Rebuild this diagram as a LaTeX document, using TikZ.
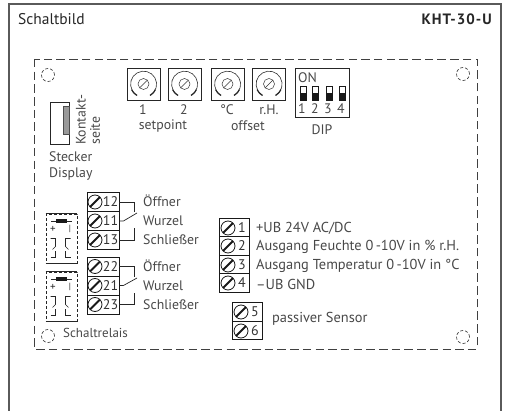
\documentclass[tikz,border=0pt]{standalone}
\usepackage{fontspec}
\setmainfont{PT Sans}
\newfontfamily\typfont[LetterSpace=7]{PT Sans Bold}
\definecolor{linie}{HTML}{5A5A5A}
\definecolor{schrift}{HTML}{484848}
\begin{document}
\begin{tikzpicture}[x=1pt,y=-1pt]
% Definition der Stile
\tikzset{
  beschrift/.style={text=schrift, font=\fontsize{13.8}{14}\selectfont, inner sep=0pt},
  langtext/.style={text=schrift, font=\fontsize{14.4}{15}\selectfont, inner sep=0pt},
  nummer/.style={text=black!80, font=\fontsize{14}{14}\selectfont, inner sep=0pt},
  titel/.style={text=black!85, font=\fontsize{15.5}{16}\selectfont, inner sep=0pt},
  rahmen/.style={draw=linie, line width=1.4pt},
  loch/.style={circle, draw=black!80, dashed, dash pattern=on 3pt off 2pt, minimum size=13pt, inner sep=0pt, line width=0.6pt},
  potibox/.style={rectangle, draw=black!85, minimum width=33pt, minimum height=32pt, inner sep=0pt, line width=0.8pt},
  schraube/.style={circle, draw=black!90, line width=0.8pt, minimum size=#1, inner sep=0pt,
    path picture={\draw[black!90, line width=2pt] (path picture bounding box.south west) -- (path picture bounding box.north east);}},
  schraube/.default=14pt,
  kerbe/.style={circle, draw=black!80, line width=0.5pt, minimum size=11pt, inner sep=0pt,
    path picture={\draw[black!80, line width=0.5pt] (path picture bounding box.south west) -- (path picture bounding box.north east);}},
  klemme/.style={rectangle, draw=black!90, minimum width=#1, minimum height=19pt, inner sep=0pt, line width=0.9pt},
  klemme/.default=30pt,
  schalter/.style={rectangle, draw=black!90, minimum width=6pt, minimum height=14pt, inner sep=0pt, line width=0.7pt,
    path picture={\fill[black!90] (path picture bounding box.south west) rectangle (path picture bounding box.east);}},
  draht/.style={draw=black!85, line width=0.7pt},
  poti/.pic={
    \node[potibox] (box) at (0,0) {};
    \node[kerbe] (kern) at (0,0) {};
    \node[circle, minimum size=26pt, inner sep=0pt] (ring) at (0,0) {};
    \draw[black!80, line width=0.6pt] (ring.-60) arc[start angle=-60, end angle=240, radius=13pt];
    \draw[black!85, line width=1.2pt] (ring.-60) arc[start angle=-60, end angle=-25, radius=13pt];
    \draw[black!85, line width=1.2pt] (ring.240) arc[start angle=240, end angle=205, radius=13pt];
  },
  relais/.pic={
    \node[draw=black!85, dashed, dash pattern=on 3pt off 2pt, line width=0.7pt, minimum width=31pt, minimum height=49pt, inner sep=0pt] (gehaeuse) at (0,0) {};
    \draw[black!85, line width=0.8pt] (gehaeuse.north west) -- (gehaeuse.north east);
    \draw[black!85, line width=0.8pt] (gehaeuse.south west) -- (gehaeuse.south east);
    \node[rectangle, fill=black!90, minimum width=11pt, minimum height=4pt, inner sep=0pt] (spule) at (0,-17.5) {};
    \draw[draht] (spule.west) -- ++(-5,0);
    \draw[draht] (spule.east) -- ++(5,0);
    \node[beschrift, font=\fontsize{11}{11}\selectfont, text=black!85] (plus) at (-8.5,-9.5) {+};
    \node[beschrift, font=\fontsize{9}{10}\selectfont, text=black!85] (minus) at (8.5,-9.5) {|};
    \draw[draht] (-11,0) -- (-6,0) -- (-6,8) -- (-9,11);
    \draw[draht] (9,0) -- (4,0) -- (4,8) -- (7,11);
    \draw[draht] (-11,19) -- (-6,19) -- (-6,13);
    \draw[draht] (9,19) -- (4,19) -- (4,13);
  }
}

\useasboundingbox (0,0) rectangle (506,411);

% Rahmen
\draw[rahmen] (9,411) -- (9,4) -- (501,4) -- (501,411);
\draw[draw=black!75, line width=0.9pt, dash pattern=on 8.5pt off 4.2pt] (34,59) rectangle (477,349);

% Titel
\node[titel, anchor=west] (schaltbild) at (18,19) {Schaltbild};
\node[titel, anchor=east, font=\fontsize{15}{16}\typfont] (typ) at (492,19) {KHT-30-U};

% Befestigungen
\node[loch] (loch_a) at (48,75) {};
\node[loch] (loch_b) at (463,74) {};
\node[loch] (loch_c) at (48,336) {};
\node[loch] (loch_d) at (463,337) {};

% Potentiometer
\pic (poti_a) at (143.5,84) {poti};
\pic (poti_b) at (184.5,84) {poti};
\pic (poti_c) at (227.5,84) {poti};
\pic (poti_d) at (269,84) {poti};
\node[beschrift] (txt_a) at (143,110) {1};
\node[beschrift] (txt_b) at (184,110) {2};
\node[beschrift] (txt_c) at (227,110) {°C};
\node[beschrift] (txt_d) at (269,110) {r.H.};
\node[beschrift] (setpoint) at (163,126) {setpoint};
\node[beschrift] (offset) at (248,126) {offset};

% DIP
\node[rectangle, draw=black!85, line width=0.8pt, minimum width=54pt, minimum height=49pt, inner sep=0pt] (dip) at (322,92.5) {};
\node[beschrift, anchor=west] (dip_on) at (298,78) {ON};
\node[schalter] (dip_a) at (303,93) {};
\node[schalter] (dip_b) at (315.5,93) {};
\node[schalter] (dip_c) at (329,93) {};
\node[schalter] (dip_d) at (342,93) {};
\node[beschrift] (dip_1) at (302,109) {1};
\node[beschrift] (dip_2) at (315,109) {2};
\node[beschrift] (dip_3) at (328,109) {3};
\node[beschrift] (dip_4) at (341,109) {4};
\node[beschrift] (dip_txt) at (322,130) {DIP};

% Stecker Display
\node[rectangle, draw=black!85, line width=0.8pt, minimum width=19pt, minimum height=42pt, inner sep=0pt] (stecker) at (59.5,123) {};
\node[rectangle, draw=black!70, minimum width=6pt, minimum height=28pt, inner sep=0pt, line width=0.4pt, fill=black!40] (kamm) at (66,120) {};
\node[beschrift, anchor=west, rotate=90] (kontakt) at (81,145) {Kontakt-};
\node[beschrift, anchor=west, rotate=90] (seite) at (95,145) {seite};
\node[beschrift, anchor=west] (stecker_a) at (49,157) {Stecker};
\node[beschrift, anchor=west] (stecker_b) at (49,174) {Display};

% Relais
\pic (relais_a) at (61.5,238.5) {relais};
\pic (relais_b) at (61.5,296.5) {relais};
\node[beschrift, anchor=west, font=\fontsize{13}{14}\selectfont] (schaltrelais) at (63,333) {Schaltrelais};

% Klemmen 12, 11, 13
\node[klemme=32pt] (k12) at (103,202) {};
\node[klemme=32pt] (k11) at (103,221) {};
\node[klemme=32pt] (k13) at (103,240) {};
\node[schraube] (s12) at (95,202) {};
\node[schraube] (s11) at (95,221) {};
\node[schraube] (s13) at (95,240) {};
\node[nummer] (n12) at (110.5,202) {12};
\node[nummer] (n11) at (110.5,221) {11};
\node[nummer] (n13) at (110.5,240) {13};
\coordinate (c12) at (134,212);
\coordinate (c11) at (137,213);
\coordinate (c13) at (134,228);
\draw[draht] (k12.east) -| (c12);
\draw[draht] (k11.east) -- ++(4,0) -- (c11);
\draw[draht] (k13.east) -| (c13);
\node[beschrift, anchor=west] (oeffner_a) at (143,201) {Öffner};
\node[beschrift, anchor=west] (wurzel_a) at (143,221) {Wurzel};
\node[beschrift, anchor=west] (schliesser_a) at (143,240) {Schließer};

% Klemmen 22, 21, 23
\node[klemme=32pt] (k22) at (103,266.5) {};
\node[klemme=32pt] (k21) at (103,285.5) {};
\node[klemme=32pt] (k23) at (103,304.5) {};
\node[schraube] (s22) at (95,266.5) {};
\node[schraube] (s21) at (95,285.5) {};
\node[schraube] (s23) at (95,304.5) {};
\node[nummer] (n22) at (110.5,266.5) {22};
\node[nummer] (n21) at (110.5,285.5) {21};
\node[nummer] (n23) at (110.5,304.5) {23};
\coordinate (c22) at (134,277);
\coordinate (c21) at (137,278);
\coordinate (c23) at (134,293);
\draw[draht] (k22.east) -| (c22);
\draw[draht] (k21.east) -- ++(4,0) -- (c21);
\draw[draht] (k23.east) -| (c23);
\node[beschrift, anchor=west] (oeffner_b) at (143,266) {Öffner};
\node[beschrift, anchor=west] (wurzel_b) at (143,286) {Wurzel};
\node[beschrift, anchor=west] (schliesser_b) at (143,305) {Schließer};

% Klemmen 1 bis 4
\node[klemme, minimum height=18.5pt] (k1) at (234.5,227.5) {};
\node[klemme, minimum height=18.5pt] (k2) at (234.5,246) {};
\node[klemme, minimum height=18.5pt] (k3) at (234.5,264.5) {};
\node[klemme, minimum height=18.5pt] (k4) at (234.5,283) {};
\node[schraube] (s1) at (228,228) {};
\node[schraube] (s2) at (228,246) {};
\node[schraube] (s3) at (228,265) {};
\node[schraube] (s4) at (228,283) {};
\node[nummer] (n1) at (242,228) {1};
\node[nummer] (n2) at (242,246) {2};
\node[nummer] (n3) at (242,265) {3};
\node[nummer] (n4) at (242,283) {4};
\node[langtext, anchor=west] (txt_1) at (256,228) {+UB 24V AC/DC};
\node[langtext, anchor=west] (txt_2) at (256,246.5) {Ausgang Feuchte 0\,-10V in \% r.H.};
\node[langtext, anchor=west] (txt_3) at (256,265.5) {Ausgang Temperatur 0\,-10V in °C};
\node[langtext, anchor=west] (txt_4) at (256,284) {–UB GND};

% Klemmen 5 und 6
\node[klemme, minimum height=18.5pt] (k5) at (247,312) {};
\node[klemme, minimum height=18.5pt] (k6) at (247,330.5) {};
\node[schraube] (s5) at (241,312) {};
\node[schraube] (s6) at (241,331) {};
\node[nummer] (n5) at (255,312) {5};
\node[nummer] (n6) at (255,331) {6};
\node[langtext, anchor=west] (sensor) at (272,319) {passiver Sensor};

\end{tikzpicture}
\end{document}
